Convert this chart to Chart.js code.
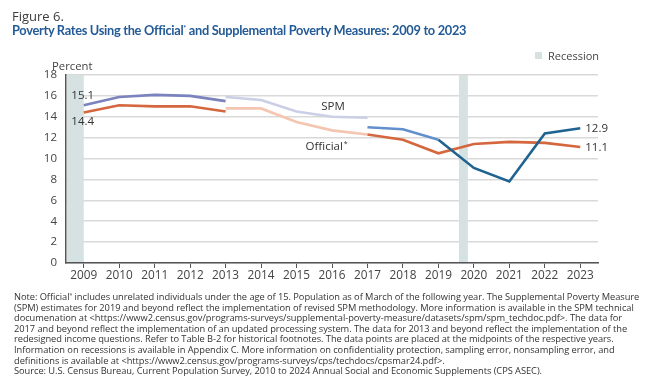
<!DOCTYPE html>
<html>
<head>
<meta charset="utf-8">
<script src="https://cdn.jsdelivr.net/npm/chart.js@4"></script>
<style>
  body { margin: 0; background: #fff; }
  #wrap { position: relative; width: 660px; height: 386px; overflow: hidden; font-family: "Open Sans", sans-serif; }
  #povertyChart { position: absolute; left: 0; top: 0; }
  .txt { position: absolute; white-space: nowrap; }
  #fig { left: 12px; top: 7px; font-size: 13px; color: #3c3c3c; }
  #title { left: 12px; top: 22px; font-family: Lato, sans-serif; font-size: 12.8px; letter-spacing: -0.3px; font-weight: 700; color: #245b96; }
  #title sup { font-size: 55%; vertical-align: 0.6em; line-height: 0; }
  #recBox { position: absolute; left: 535px; top: 52px; width: 7px; height: 7px; background: #d6e1e1; }
  #recTxt { left: 548px; top: 48px; font-size: 11px; color: #444; }
  #percent { left: 52px; top: 58px; font-size: 11.3px; color: #444; }
  #note { left: 14px; top: 292px; font-size: 9.3px; letter-spacing: -0.05px; line-height: 10.6px; color: #333; }
  #note sup { font-size: 55%; vertical-align: 0.6em; line-height: 0; }
</style>
</head>
<body>
<div id="wrap">
  <canvas id="povertyChart" width="660" height="386"></canvas>
  <div class="txt" id="fig">Figure 6.</div>
  <div class="txt" id="title">Poverty Rates Using the Official<sup>*</sup> and Supplemental Poverty Measures: 2009 to 2023</div>
  <div id="recBox"></div>
  <div class="txt" id="recTxt">Recession</div>
  <div class="txt" id="percent">Percent</div>
  <div class="txt" id="note">
    <div>Note: Official<sup>*</sup> includes unrelated individuals under the age of 15. Population as of March of the following year. The Supplemental Poverty Measure</div>
    <div>(SPM) estimates for 2019 and beyond reflect the implementation of revised SPM methodology. More information is available in the SPM technical</div>
    <div>documenation at &lt;https://www2.census.gov/programs-surveys/supplemental-poverty-measure/datasets/spm/spm_techdoc.pdf&gt;. The data for</div>
    <div>2017 and beyond reflect the implementation of an updated processing system. The data for 2013 and beyond reflect the implementation of the</div>
    <div>redesigned income questions. Refer to Table B-2 for historical footnotes. The data points are placed at the midpoints of the respective years.</div>
    <div>Information on recessions is available in Appendix C. More information on confidentiality protection, sampling error, nonsampling error, and</div>
    <div>definitions is available at &lt;https://www2.census.gov/programs-surveys/cps/techdocs/cpsmar24.pdf&gt;.</div>
    <div>Source: U.S. Census Bureau, Current Population Survey, 2010 to 2024 Annual Social and Economic Supplements (CPS ASEC).</div>
  </div>
</div>
<script>
// data
const tickYears = [2009, 2010, 2011, 2012, 2013, 2014, 2015, 2016, 2017, 2018, 2019, 2020, 2021, 2022, 2023];

const spmYears1 = [2009, 2010, 2011, 2012, 2013];
const spm1 = [15.1, 15.9, 16.1, 16.0, 15.5];
const spmYears2 = [2013, 2014, 2015, 2016, 2017];
const spm2 = [15.9, 15.6, 14.5, 14.0, 13.9];
const spmYears3 = [2017, 2018, 2019];
const spm3 = [13.0, 12.8, 11.8];
const spmYears4 = [2019, 2020, 2021, 2022, 2023];
const spm4 = [11.8, 9.1, 7.8, 12.4, 12.9];

const offYears1 = [2009, 2010, 2011, 2012, 2013];
const official1 = [14.4, 15.1, 15.0, 15.0, 14.5];
const offYears2 = [2013, 2014, 2015, 2016, 2017];
const official2 = [14.8, 14.8, 13.5, 12.7, 12.3];
const offYears3 = [2017, 2018, 2019, 2020, 2021, 2022, 2023];
const official3 = [12.3, 11.8, 10.5, 11.4, 11.6, 11.5, 11.1];

// recession periods on the year axis (points sit at mid-year)
const recessions = [[2008.5, 2009.0], [2019.58, 2019.83]];

const pts = (xs, ys) => xs.map((x, i) => ({ x: x, y: ys[i] }));

function seg(data, color) {
    return {
        data: data,
        borderColor: color,
        backgroundColor: color,
        borderWidth: 2.6,
        pointRadius: 0,
        tension: 0,
        borderCapStyle: 'butt'
    };
}

const recessionShade = {
    id: 'recessionShade',
    beforeDatasetsDraw(chart) {
        const { ctx, chartArea, scales: { x } } = chart;
        ctx.save();
        ctx.fillStyle = '#d6e1e1';
        recessions.forEach(([a, b]) => {
            const x0 = Math.max(x.getPixelForValue(a), chartArea.left + 1);
            const x1 = x.getPixelForValue(b);
            ctx.fillRect(x0, chartArea.top, x1 - x0, chartArea.bottom - chartArea.top - 1);
        });
        ctx.restore();
    }
};

const lineLabels = {
    id: 'lineLabels',
    afterDatasetsDraw(chart) {
        const { ctx, scales: { x, y } } = chart;
        ctx.save();
        ctx.fillStyle = '#333';
        ctx.font = '11.5px "Open Sans"';
        ctx.textBaseline = 'middle';

        ctx.textAlign = 'center';
        ctx.fillText(spm1[0].toFixed(1), x.getPixelForValue(spmYears1[0]) - 1, y.getPixelForValue(spm1[0]) - 10);
        ctx.fillText(official1[0].toFixed(1), x.getPixelForValue(offYears1[0]) - 1, y.getPixelForValue(official1[0]) + 9);

        ctx.textAlign = 'left';
        const lastX = x.getPixelForValue(2023) + 5;
        ctx.fillText(spm4[spm4.length - 1].toFixed(1), lastX, y.getPixelForValue(spm4[spm4.length - 1]));
        ctx.fillText(official3[official3.length - 1].toFixed(1), lastX, y.getPixelForValue(official3[official3.length - 1]) + 1);

        ctx.textAlign = 'center';
        ctx.fillText('SPM', x.getPixelForValue(2016.03), y.getPixelForValue(15.0));

        const ox = x.getPixelForValue(2015.78), oy = y.getPixelForValue(11.1);
        ctx.fillText('Official', ox, oy);
        const w = ctx.measureText('Official').width;
        ctx.font = '7px "Open Sans"';
        ctx.textAlign = 'left';
        ctx.fillText('*', ox + w / 2 + 1, oy - 3);
        ctx.restore();
    }
};

const ctx = document.getElementById('povertyChart');
const povertyChart = new Chart(ctx, {
    type: 'line',
    data: {
        datasets: [
            seg(pts(spmYears4, spm4), '#1f6390'),
            seg(pts(spmYears3, spm3), '#6190cc'),
            seg(pts(spmYears2, spm2), '#cbcfe6'),
            seg(pts(spmYears1, spm1), '#7a83bd'),
            seg(pts(offYears3, official3), '#d5673f'),
            seg(pts(offYears2, official2), '#f4c5b0'),
            seg(pts(offYears1, official1), '#d5673f')
        ]
    },
    options: {
        responsive: false,
        animation: false,
        layout: { padding: { left: 0, right: 62, top: 75, bottom: 0 } },
        plugins: {
            legend: { display: false },
            tooltip: { enabled: false }
        },
        scales: {
            x: {
                type: 'linear',
                min: 2008.5,
                max: 2023.5,
                afterBuildTicks: (s) => { s.ticks = tickYears.map(v => ({ value: v })); },
                afterFit: (s) => { s.height = 123; },
                grid: { drawOnChartArea: false, drawTicks: true, tickLength: 5, color: '#555', lineWidth: 1 },
                border: { display: true, color: '#555', width: 1.5 },
                ticks: { color: '#444', font: { family: 'Open Sans', size: 11.8 }, padding: 1, maxRotation: 0, callback: (v) => String(v) }
            },
            y: {
                min: 0,
                max: 18,
                afterFit: (s) => { s.width = 66; },
                grid: { color: '#d9d9d9', lineWidth: 1.5, drawTicks: false },
                border: { display: true, color: '#555', width: 1.5 },
                ticks: { stepSize: 2, color: '#444', font: { family: 'Open Sans', size: 11.5 }, padding: 9 }
            }
        }
    },
    plugins: [recessionShade, lineLabels]
});
</script>
</body>
</html>
